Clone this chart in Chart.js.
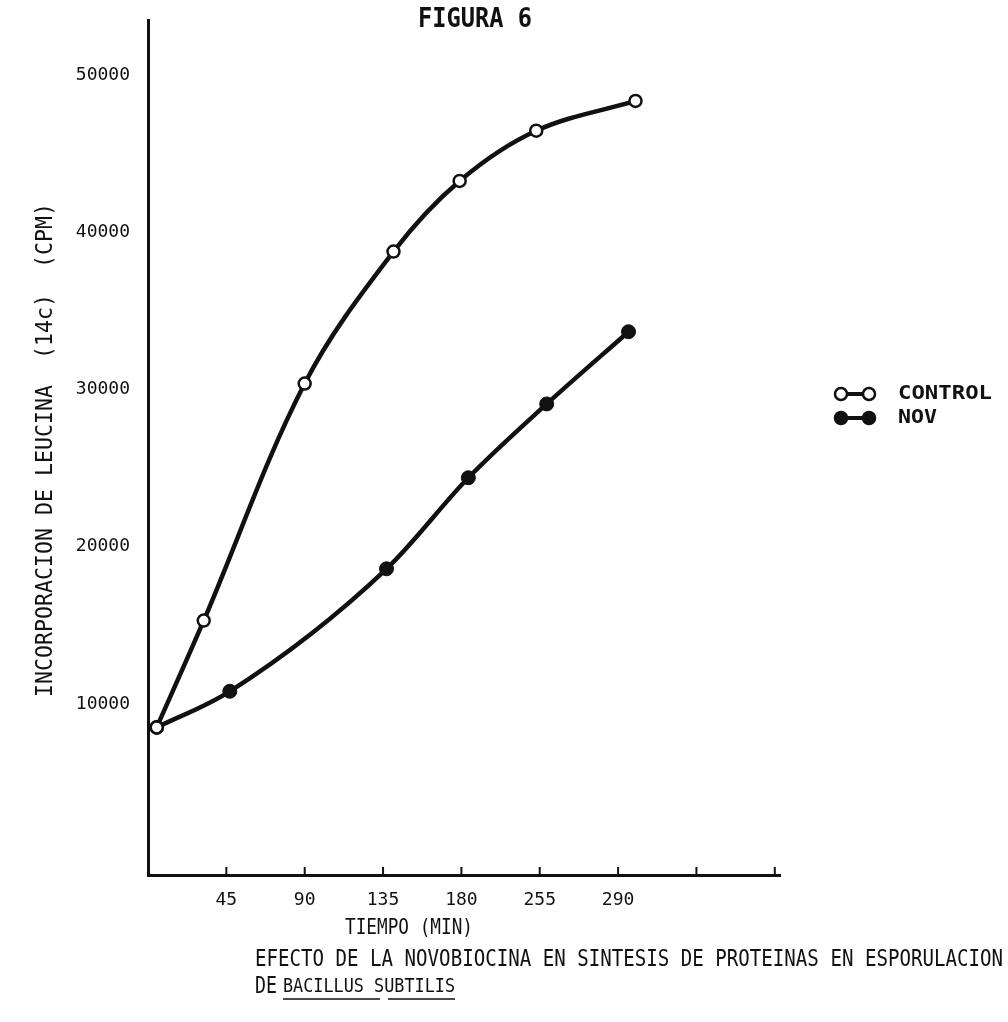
<!DOCTYPE html>
<html>
<head>
<meta charset="utf-8">
<script src="https://cdn.jsdelivr.net/npm/chart.js@4.4.0/dist/chart.umd.min.js"></script>
<style>
  body { margin: 0; background: #fff; }
  canvas { display: block; }
</style>
</head>
<body>
<canvas id="fig" width="1008" height="1022"></canvas>
<script>
// values
const xTickValues = [45, 90, 135, 180, 225, 270, 315, 360];
const xTickLabels = ['45', '90', '135', '180', '255', '290', '', ''];
const yTickValues = [10000, 20000, 30000, 40000, 50000];

const controlTime = [5, 32, 90, 141, 179, 223, 280];
const controlCpm = [8500, 15300, 30400, 38800, 43300, 46500, 48400];
const novTime = [5, 47, 137, 184, 229, 276];
const novCpm = [8500, 10800, 18600, 24400, 29100, 33700];

const ink = '#111';
const fontFam = '"DejaVu Sans Mono", "Liberation Mono", monospace';

function pts(xs, ys) {
  return xs.map((x, i) => ({ x: x, y: ys[i] }));
}

// draw text squeezed/stretched to a given width (typewriter look)
function fitText(ctx, text, x, y, w, size, align, weight) {
  ctx.save();
  ctx.font = (weight || 'normal') + ' ' + size + 'px ' + fontFam;
  ctx.textBaseline = 'middle';
  ctx.textAlign = 'left';
  const m = ctx.measureText(text).width;
  const s = w / m;
  let left = x;
  if (align === 'center') left = x - w / 2;
  ctx.translate(left, y);
  ctx.scale(s, 1);
  ctx.fillText(text, 0, 0);
  ctx.restore();
}

const decor = {
  id: 'decor',
  afterDraw(chart) {
    const ctx = chart.ctx;
    const xs = chart.scales.x;
    const area = chart.chartArea;
    ctx.save();
    ctx.fillStyle = ink;
    ctx.strokeStyle = ink;

    // tick marks pointing up into the plot
    ctx.lineWidth = 2;
    xTickValues.forEach(v => {
      const px = xs.getPixelForValue(v);
      ctx.beginPath();
      ctx.moveTo(px, area.bottom);
      ctx.lineTo(px, area.bottom - 8);
      ctx.stroke();
    });

    fitText(ctx, 'FIGURA 6', 475, 20, 114, 26, 'center', 'bold');

    // y title, rotated
    ctx.save();
    ctx.translate(46, 450);
    ctx.rotate(-Math.PI / 2);
    fitText(ctx, 'INCORPORACION DE LEUCINA  (14c)  (CPM)', 0, 0, 494, 23, 'center');
    ctx.restore();

    fitText(ctx, 'TIEMPO (MIN)', 409, 929, 128, 21, 'center');
    fitText(ctx, 'EFECTO DE LA NOVOBIOCINA EN SINTESIS DE PROTEINAS EN ESPORULACION', 255, 960, 748, 23, 'left');
    fitText(ctx, 'DE', 255, 987, 22, 23, 'left');
    fitText(ctx, 'BACILLUS SUBTILIS', 283, 987, 172, 20, 'left');
    ctx.lineWidth = 1.5;
    ctx.beginPath();
    ctx.moveTo(283, 999); ctx.lineTo(380, 999);
    ctx.moveTo(388, 999); ctx.lineTo(455, 999);
    ctx.stroke();

    // legend
    const ds = chart.data.datasets;
    const rows = [{ y: 394, d: ds[0] }, { y: 418, d: ds[1] }];
    rows.forEach(r => {
      ctx.strokeStyle = ink;
      ctx.lineWidth = 4;
      ctx.beginPath();
      ctx.moveTo(841, r.y); ctx.lineTo(869, r.y);
      ctx.stroke();
      [841, 869].forEach(cx => {
        ctx.beginPath();
        ctx.arc(cx, r.y, 6, 0, Math.PI * 2);
        ctx.fillStyle = r.d.pointBackgroundColor;
        ctx.fill();
        ctx.lineWidth = 2.5;
        ctx.stroke();
      });
      ctx.fillStyle = ink;
      fitText(ctx, r.d.label, 898, r.y, r.d.label === 'CONTROL' ? 94 : 39, 20, 'left', 'bold');
    });
    ctx.restore();
  }
};

new Chart(document.getElementById('fig'), {
  type: 'scatter',
  data: {
    datasets: [
      {
        label: 'CONTROL',
        data: pts(controlTime, controlCpm),
        showLine: true,
        borderColor: ink,
        borderWidth: 4.5,
        tension: 0.35,
        pointRadius: 6,
        pointBorderWidth: 2.5,
        pointBackgroundColor: '#fff',
        pointBorderColor: ink
      },
      {
        label: 'NOV',
        data: pts(novTime, novCpm),
        showLine: true,
        borderColor: ink,
        borderWidth: 4.5,
        cubicInterpolationMode: 'monotone',
        pointRadius: 7,
        pointBorderWidth: 1,
        pointBackgroundColor: ink,
        pointBorderColor: ink
      }
    ]
  },
  options: {
    responsive: false,
    animation: false,
    devicePixelRatio: 1,
    layout: { padding: { top: 20, right: 228, left: 0, bottom: 0 } },
    plugins: {
      legend: { display: false },
      tooltip: { enabled: false }
    },
    scales: {
      x: {
        type: 'linear',
        min: 0,
        max: 363,
        afterBuildTicks: s => { s.ticks = xTickValues.map(v => ({ value: v })); },
        afterFit: s => { s.height = 147; },
        grid: { display: false },
        border: { color: ink, width: 3 },
        ticks: {
          color: ink,
          padding: 7,
          maxRotation: 0,
          autoSkip: false,
          font: { family: fontFam, size: 18 },
          callback: (v, i) => xTickLabels[i]
        }
      },
      y: {
        min: -900,
        max: 53500,
        afterBuildTicks: s => { s.ticks = yTickValues.map(v => ({ value: v })); },
        afterFit: s => { s.width = 148; },
        grid: { display: false },
        border: { color: ink, width: 3 },
        ticks: {
          color: ink,
          padding: 10,
          font: { family: fontFam, size: 18 },
          callback: v => String(v)
        }
      }
    }
  },
  plugins: [decor]
});
</script>
</body>
</html>
